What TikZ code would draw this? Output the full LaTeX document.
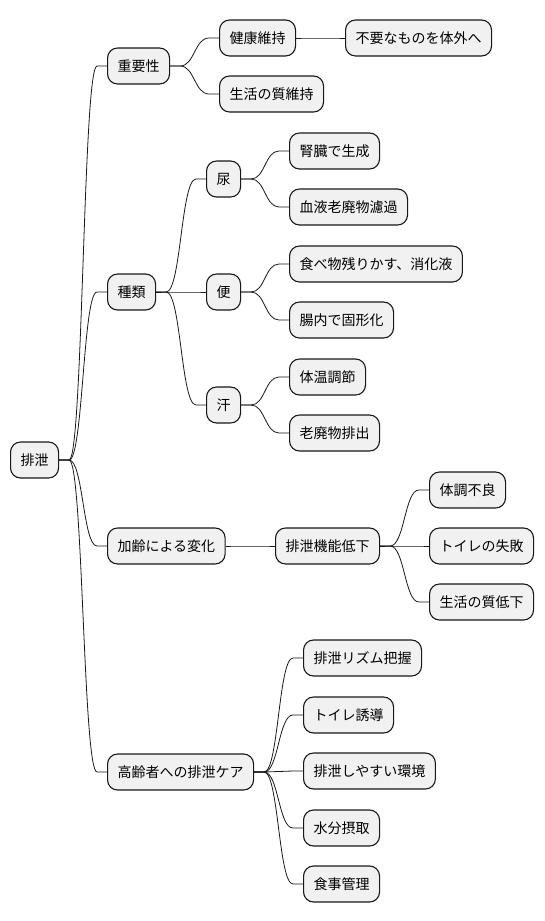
\documentclass[tikz,border=0pt]{standalone}
\usepackage{fontspec}
\setmainfont{Noto Sans CJK JP}
\usetikzlibrary{calc}

\definecolor{boxgray}{HTML}{F1F1F1}
\definecolor{edgeblack}{HTML}{181818}

\tikzset{
	topic/.style={draw=edgeblack, fill=boxgray, line width=1.1pt, rounded corners=10pt,
		minimum height=36pt, inner xsep=10pt, inner ysep=0pt, text height=12pt, text depth=1.5pt,
		anchor=west, font=\fontsize{14}{16}\selectfont},
	limb/.style={draw=edgeblack, line width=0.8pt},
}

\begin{document}
\begin{tikzpicture}[x=1pt,y=-1pt]
	\useasboundingbox (0,0) rectangle (544,921);

	% root
	\node[topic] (root) at (10,460) {排泄};

	% importance
	\node[topic] (imp) at (107,66) {重要性};
	\node[topic] (health) at (219,38) {健康維持};
	\node[topic] (waste) at (345,38) {不要なものを体外へ};
	\node[topic] (qol) at (219,94) {生活の質維持};

	% kinds
	\node[topic] (kinds) at (107,292) {種類};
	\node[topic] (urine) at (206,179) {尿};
	\node[topic] (kidney) at (289,151) {腎臓で生成};
	\node[topic] (filter) at (289,207) {血液老廃物濾過};
	\node[topic] (stool) at (206,292) {便};
	\node[topic] (food) at (289,264) {食べ物残りかす、消化液};
	\node[topic] (solid) at (289,320) {腸内で固形化};
	\node[topic] (sweat) at (206,405) {汗};
	\node[topic] (temp) at (289,377) {体温調節};
	\node[topic] (excr) at (289,433) {老廃物排出};

	% aging
	\node[topic] (aging) at (107,546) {加齢による変化};
	\node[topic] (decline) at (275,546) {排泄機能低下};
	\node[topic] (unwell) at (429,490) {体調不良};
	\node[topic] (fail) at (429,546) {トイレの失敗};
	\node[topic] (qoldown) at (429,602) {生活の質低下};

	% care
	\node[topic] (care) at (107,772) {高齢者への排泄ケア};
	\node[topic] (rhythm) at (303,658) {排泄リズム把握};
	\node[topic] (guide) at (303,715) {トイレ誘導};
	\node[topic] (env) at (303,771) {排泄しやすい環境};
	\node[topic] (water) at (303,828) {水分摂取};
	\node[topic] (meal) at (303,884) {食事管理};

	% branches
	\foreach \a/\b in {root/imp, root/kinds, root/aging, root/care,
		imp/health, imp/qol, health/waste,
		kinds/urine, kinds/stool, kinds/sweat,
		urine/kidney, urine/filter, stool/food, stool/solid, sweat/temp, sweat/excr,
		aging/decline, decline/unwell, decline/fail, decline/qoldown,
		care/rhythm, care/guide, care/env, care/water, care/meal} {
		\draw[limb] let \p1=(\a.east), \p2=(\b.west) in
			(\p1) -- (\x1+10pt,\y1) .. controls ({(\x1+\x2)/2},\y1) and ({(\x1+\x2)/2},\y2) .. (\x2-10pt,\y2) -- (\p2);
	};
\end{tikzpicture}
\end{document}
